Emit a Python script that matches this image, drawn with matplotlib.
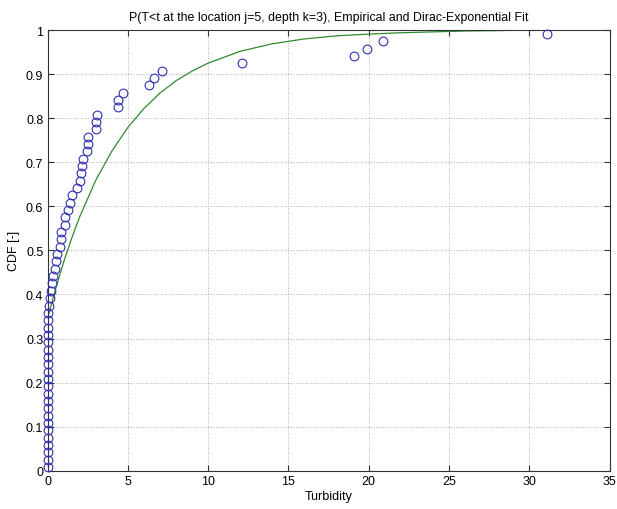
import matplotlib
matplotlib.use("Agg")
import matplotlib.pyplot as plt

plt.rcParams['font.family'] = ['Liberation Sans', 'DejaVu Sans']

# Empirical points (turbidity, CDF)
emp_t = [0, 0, 0, 0, 0, 0, 0, 0, 0, 0,
         0, 0, 0, 0, 0, 0, 0, 0, 0, 0,
         0, 0.05, 0.1, 0.15, 0.2, 0.3, 0.35, 0.45, 0.55, 0.6,
         0.75, 0.85, 0.87, 1.12, 1.12, 1.29, 1.4, 1.5, 1.85, 2.0,
         2.06, 2.17, 2.23, 2.48, 2.52, 2.52, 3.04, 3.04, 3.1, 4.4,
         4.4, 4.73, 6.33, 6.6, 7.1, 12.1, 19.1, 19.9, 20.9, 31.1]
emp_cdf = [0.008, 0.025, 0.042, 0.058, 0.075, 0.092, 0.108, 0.125, 0.142, 0.158,
           0.175, 0.192, 0.208, 0.225, 0.242, 0.258, 0.275, 0.292, 0.308, 0.325,
           0.342, 0.358, 0.375, 0.392, 0.408, 0.425, 0.442, 0.458, 0.475, 0.492,
           0.508, 0.525, 0.542, 0.558, 0.575, 0.592, 0.608, 0.625, 0.642, 0.658,
           0.675, 0.692, 0.708, 0.725, 0.742, 0.758, 0.775, 0.792, 0.808, 0.825,
           0.842, 0.858, 0.875, 0.892, 0.908, 0.925, 0.942, 0.958, 0.975, 0.992]

# Fitted Dirac-exponential curve
fit_t = [0, 0.5, 1, 1.5, 2, 3, 4, 5, 6, 7, 8, 9, 10, 12, 14, 16, 18, 20, 22, 24, 26, 28.4]
fit_cdf = [0.345, 0.412, 0.473, 0.527, 0.576, 0.659, 0.725, 0.779, 0.822, 0.857, 0.885,
           0.907, 0.925, 0.952, 0.969, 0.980, 0.987, 0.991, 0.994, 0.996, 0.998, 0.999]

x_ticks = [0, 5, 10, 15, 20, 25, 30, 35]
y_ticks = [0, 0.1, 0.2, 0.3, 0.4, 0.5, 0.6, 0.7, 0.8, 0.9, 1]
y_ticklabels = ['0', '0.1', '0.2', '0.3', '0.4', '0.5', '0.6', '0.7', '0.8', '0.9', '1']

fig = plt.figure(figsize=(6.17, 5.10), dpi=100)
ax = fig.add_axes([0.077, 0.075, 0.911, 0.864])

ax.plot(emp_t, emp_cdf, linestyle='none', marker='o', markersize=6.3,
        markerfacecolor='none', markeredgecolor='#3030b0', markeredgewidth=0.8,
        clip_on=False, zorder=3)
ax.plot(fit_t, fit_cdf, color='#2e8b2e', linewidth=0.9)

ax.set_xlim(0, 35)
ax.set_ylim(0, 1)
ax.set_xticks(x_ticks)
ax.set_yticks(y_ticks)
ax.set_yticklabels(y_ticklabels)
ax.grid(True, linestyle=(0, (1, 2)), color='#999999', linewidth=0.6)
ax.tick_params(direction='in', top=True, right=True, labelsize=9, length=4,
               color='#333333', pad=3)
for s in ax.spines.values():
    s.set_color('#333333')
    s.set_linewidth(0.8)

ax.set_xlabel('Turbidity', fontsize=9, labelpad=2)
ax.set_ylabel('CDF [-]', fontsize=9, labelpad=4)
ax.set_title('P(T<t at the location j=5, depth k=3), Empirical and Dirac-Exponential Fit',
             fontsize=8.9, pad=7)

fig.savefig('out.png', dpi=100)
